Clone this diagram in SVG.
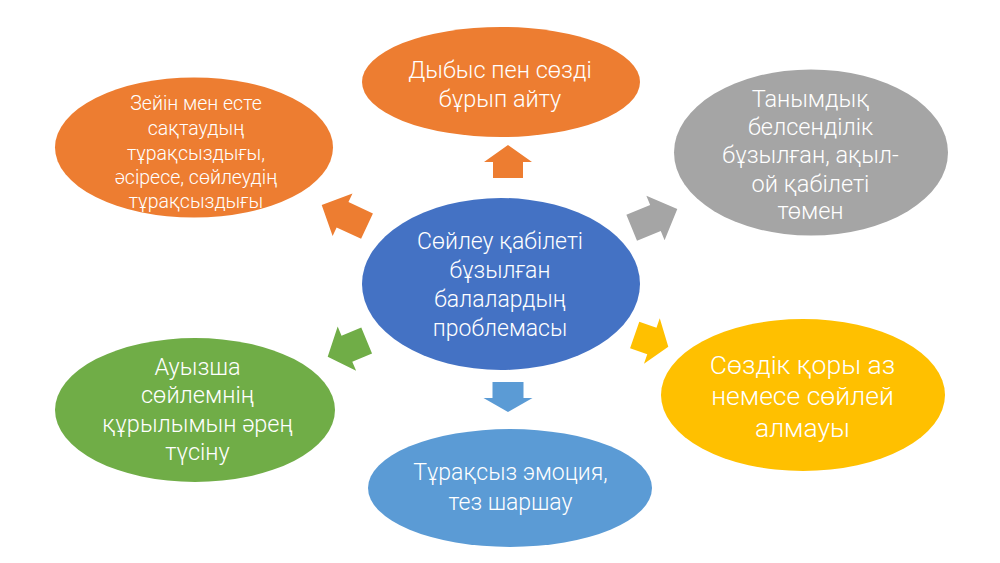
<svg xmlns="http://www.w3.org/2000/svg" width="1000" height="563" viewBox="0 0 1000 563">
<style>
  text { font-family: Roboto, "Open Sans", sans-serif; font-weight: 300; fill: #ffffff; text-anchor: middle; }
  .orange { fill: #ED7D31; }
  .gray { fill: #A5A5A5; }
  .yellow { fill: #FFC000; }
  .green { fill: #70AD47; }
  .lblue { fill: #5B9BD5; }
  .blue { fill: #4472C4; }
</style>
<rect width="1000" height="563" fill="#ffffff"/>
<g id="connectors">
  <polygon class="orange" transform="translate(508,145) rotate(-90)" points="0,0 -17,-24 -17,-15 -33,-15 -33,15 -17,15 -17,24"/>
  <polygon class="lblue" transform="translate(508,412) rotate(90)" points="0,0 -14,-24.5 -14,-15.5 -30,-15.5 -30,15.5 -14,15.5 -14,24.5"/>
  <polygon class="orange" transform="translate(321.7,205) rotate(205)" points="0,0 -23,-23.5 -23,-14 -50,-14 -50,14 -23,14 -23,23.5"/>
  <polygon class="gray" transform="translate(677.3,209) rotate(-22.3)" points="0,0 -23.6,-24 -23.6,-14 -49.3,-14 -49.3,14 -23.6,14 -23.6,24"/>
  <polygon class="yellow" transform="translate(668.3,346.7) rotate(19.2)" points="0,0 -17.4,-24 -17.4,-14 -35.6,-14 -35.6,14 -17.4,14 -17.4,24"/>
  <polygon class="green" transform="translate(327.7,356.7) rotate(157.4)" points="0,0 -20.8,-24 -20.8,-14 -42.2,-14 -42.2,14 -20.8,14 -20.8,24"/>
</g>
<g id="center">
  <ellipse class="blue" cx="501" cy="284" rx="139" ry="86"/>
  <text font-size="23"><tspan x="500" y="249">Сөйлеу қабілеті</tspan><tspan x="500" y="278">бұзылған</tspan><tspan x="500" y="307">балалардың</tspan><tspan x="500" y="336">проблемасы</tspan></text>
</g>
<g id="top">
  <ellipse class="orange" cx="501" cy="82" rx="139" ry="55"/>
  <text font-size="23.5"><tspan x="500" y="78">Дыбыс пен сөзді</tspan><tspan x="500" y="107">бұрып айту</tspan></text>
</g>
<g id="upper-left">
  <ellipse class="orange" cx="194" cy="147.5" rx="139" ry="70"/>
  <text font-size="19.5"><tspan x="196" y="110">Зейін мен есте</tspan><tspan x="196" y="135">сақтаудың</tspan><tspan x="196" y="160">тұрақсыздығы,</tspan><tspan x="196" y="184">әсіресе, сөйлеудің</tspan><tspan x="196" y="208">тұрақсыздығы</tspan></text>
</g>
<g id="upper-right">
  <ellipse class="gray" cx="811" cy="152.5" rx="137" ry="83"/>
  <text font-size="23.5"><tspan x="810.5" y="107">Танымдық</tspan><tspan x="810.5" y="135">белсенділік</tspan><tspan x="810.5" y="163">бұзылған, ақыл-</tspan><tspan x="810.5" y="191.5">ой қабілеті</tspan><tspan x="810.5" y="219">төмен</tspan></text>
</g>
<g id="lower-right">
  <ellipse class="yellow" cx="803" cy="395" rx="142" ry="76"/>
  <text font-size="26.5"><tspan x="802.5" y="374">Сөздік қоры аз</tspan><tspan x="802.5" y="405">немесе сөйлей</tspan><tspan x="802.5" y="436.5">алмауы</tspan></text>
</g>
<g id="lower-left">
  <ellipse class="green" cx="195" cy="410" rx="140" ry="72"/>
  <text font-size="23.5"><tspan x="197.5" y="375">Ауызша</tspan><tspan x="197.5" y="403">сөйлемнің</tspan><tspan x="197.5" y="431.5">құрылымын әрең</tspan><tspan x="197.5" y="460">түсіну</tspan></text>
</g>
<g id="bottom">
  <ellipse class="lblue" cx="510" cy="488" rx="142" ry="59"/>
  <text font-size="23"><tspan x="510.5" y="480">Тұрақсыз эмоция,</tspan><tspan x="510.5" y="510">тез шаршау</tspan></text>
</g>
</svg>
